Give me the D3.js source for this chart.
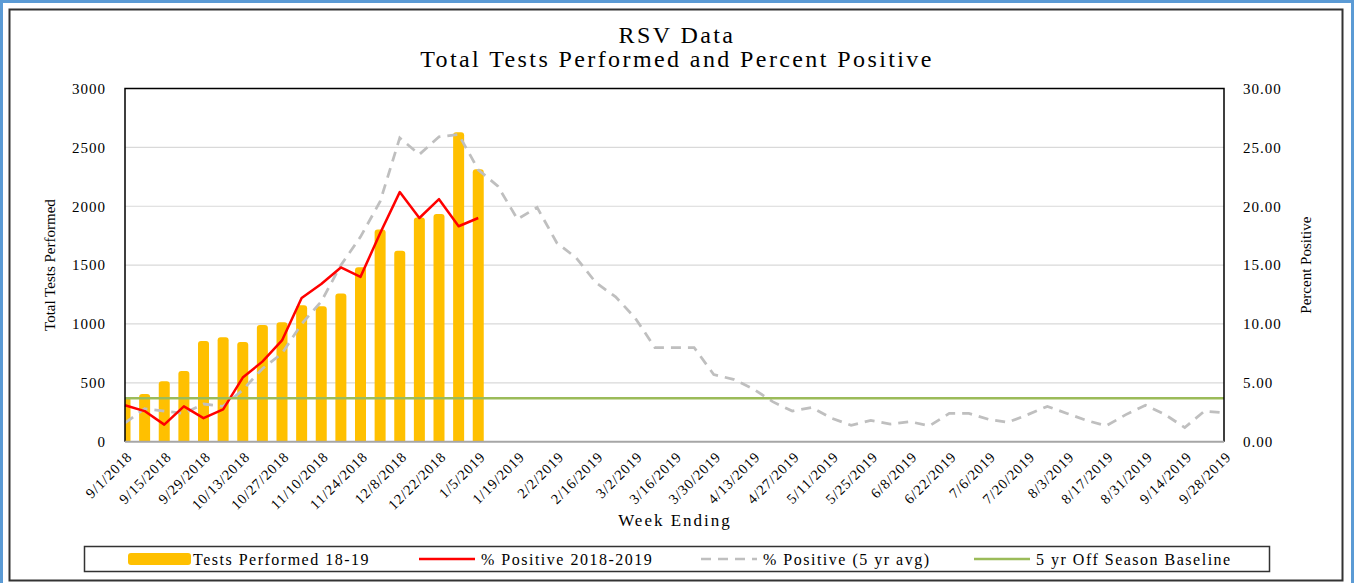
<!DOCTYPE html>
<html>
<head>
<meta charset="utf-8">
<script src="https://cdn.jsdelivr.net/npm/d3@7"></script>
<style>
  body { margin: 0; background: #fff; }
  text { font-family: "Liberation Serif", "Times New Roman", serif; fill: #000; }
</style>
</head>
<body>
<div id="chart"></div>
<script>
// 1: DATA
const weeks = [
    "9/1/2018", "9/8/2018", "9/15/2018", "9/22/2018", "9/29/2018", "10/6/2018", "10/13/2018",
    "10/20/2018", "10/27/2018", "11/3/2018", "11/10/2018", "11/17/2018", "11/24/2018", "12/1/2018",
    "12/8/2018", "12/15/2018", "12/22/2018", "12/29/2018", "1/5/2019", "1/12/2019", "1/19/2019",
    "1/26/2019", "2/2/2019", "2/9/2019", "2/16/2019", "2/23/2019", "3/2/2019", "3/9/2019",
    "3/16/2019", "3/23/2019", "3/30/2019", "4/6/2019", "4/13/2019", "4/20/2019", "4/27/2019",
    "5/4/2019", "5/11/2019", "5/18/2019", "5/25/2019", "6/1/2019", "6/8/2019", "6/15/2019",
    "6/22/2019", "6/29/2019", "7/6/2019", "7/13/2019", "7/20/2019", "7/27/2019", "8/3/2019",
    "8/10/2019", "8/17/2019", "8/24/2019", "8/31/2019", "9/7/2019", "9/14/2019", "9/21/2019",
    "9/28/2019"
];

// tests performed 18-19 (left axis)
const testsPerformed = [380, 405, 513, 601, 856, 887, 847, 992, 1015, 1159, 1151, 1258, 1482, 1802,
    1621, 1904, 1935, 2629, 2315];

// % positive 2018-2019 (right axis)
const pctPositive = [3.1, 2.6, 1.45, 3.0, 2.0, 2.75, 5.45, 6.8, 8.6, 12.2, 13.4, 14.8, 14.0, 17.7,
    21.2, 19.0, 20.6, 18.3, 19.0];

// % positive 5 yr avg (right axis)
const pctPositive5yr = [1.6, 2.8, 2.6, 2.4, 3.2, 3.0, 4.4, 6.2, 7.5, 10.0, 11.9, 15.0, 17.4, 20.4,
    25.8, 24.4, 25.9, 26.1, 23.1, 21.7, 18.9, 19.9, 16.9, 15.6, 13.5, 12.3, 10.5, 8.0,
    8.0, 8.0, 5.7, 5.3, 4.5, 3.4, 2.6, 2.9, 2.0, 1.4, 1.8, 1.5, 1.7, 1.35,
    2.4, 2.4, 1.9, 1.65, 2.3, 3.0, 2.4, 1.8, 1.35, 2.3, 3.1, 2.3, 1.2, 2.6, 2.45];

const baseline = 3.7; // 5 yr off season baseline

const leftTicks = [0, 500, 1000, 1500, 2000, 2500, 3000];
const rightTicks = [0, 5, 10, 15, 20, 25, 30];

// 2: SIZES
const W = 1354, H = 583;
const margin = { top: 88.5, right: 130, bottom: 141.3, left: 125 };
const width = W - margin.left - margin.right;
const height = H - margin.top - margin.bottom;

const svg = d3.select("#chart")
    .append("svg")
    .attr("width", W)
    .attr("height", H);

// blue selection edge + chart frame
svg.append("rect").attr("x", 0).attr("y", 0).attr("width", W).attr("height", H).attr("fill", "#fff");
svg.append("path")
    .attr("d", `M1.5,${H} V1.5 H${W - 1.5} V${H}`)
    .attr("fill", "none").attr("stroke", "#5b9bd5").attr("stroke-width", 3);
svg.append("rect")
    .attr("x", 9.5).attr("y", 9.5).attr("width", 1333).attr("height", 571)
    .attr("fill", "none").attr("stroke", "#333").attr("stroke-width", 2);

const g = svg.append("g")
    .attr("transform", `translate(${margin.left},${margin.top})`);

// 3: SCALES
const x = d3.scaleLinear().domain([0, weeks.length - 1]).range([0, width]);
const yLeft = d3.scaleLinear().domain([0, 3000]).range([height, 0]);
const yRight = d3.scaleLinear().domain([0, 30]).range([height, 0]);

// gridlines
g.append("g")
    .selectAll("line")
    .data(leftTicks.slice(1, -1))
    .enter().append("line")
    .attr("x1", 0).attr("x2", width)
    .attr("y1", d => yLeft(d)).attr("y2", d => yLeft(d))
    .attr("stroke", "#d9d9d9").attr("stroke-width", 1.2);

svg.append("clipPath").attr("id", "plotClip")
    .append("rect").attr("x", 0).attr("y", 0).attr("width", width).attr("height", height);

// 4: PLOT DATA
const barW = 11;
g.append("g")
    .attr("clip-path", "url(#plotClip)")
    .selectAll("rect")
    .data(testsPerformed)
    .enter().append("rect")
    .attr("x", (d, i) => x(i) - barW / 2)
    .attr("y", d => yLeft(d))
    .attr("width", barW)
    .attr("height", d => height - yLeft(d) + 5)
    .attr("rx", 3)
    .attr("fill", "#ffc000");

const lineGen = d3.line().x((d, i) => x(i)).y(d => yRight(d));
g.append("path")
    .datum(pctPositive5yr)
    .attr("d", lineGen)
    .attr("fill", "none")
    .attr("stroke", "#bfbfbf")
    .attr("stroke-width", 2.75)
    .attr("stroke-dasharray", "10,7");

g.append("path")
    .datum(pctPositive)
    .attr("d", lineGen)
    .attr("fill", "none")
    .attr("stroke", "#ff0000")
    .attr("stroke-width", 2.5)
    .attr("stroke-linejoin", "round");

g.append("line")
    .attr("x1", 0).attr("x2", width)
    .attr("y1", yRight(baseline)).attr("y2", yRight(baseline))
    .attr("stroke", "#9bbb59").attr("stroke-width", 2.5);

// 5: AXES + FRAME
g.append("path")
    .attr("d", `M0,${height} V0 H${width} V${height}`)
    .attr("fill", "none").attr("stroke", "#000").attr("stroke-width", 1.5);
g.append("line")
    .attr("x1", 0).attr("x2", width).attr("y1", height).attr("y2", height)
    .attr("stroke", "#a6a6a6").attr("stroke-width", 2);

const leftAxis = g.append("g")
    .call(d3.axisLeft(yLeft).tickValues(leftTicks).tickSize(0).tickPadding(19).tickFormat(d3.format("d")));
leftAxis.select(".domain").remove();
leftAxis.selectAll("text")
    .style("font-family", '"Liberation Serif", serif')
    .style("font-size", "15px").style("letter-spacing", "1px").attr("fill", "#000");

const rightAxis = g.append("g")
    .attr("transform", `translate(${width},0)`)
    .call(d3.axisRight(yRight).tickValues(rightTicks).tickSize(0).tickPadding(19).tickFormat(d3.format(".2f")));
rightAxis.select(".domain").remove();
rightAxis.selectAll("text")
    .style("font-family", '"Liberation Serif", serif')
    .style("font-size", "15px").style("letter-spacing", "1px").attr("fill", "#000");

// x tick labels, every other week, rotated
g.append("g")
    .selectAll("text")
    .data(weeks.map((w, i) => ({ w, i })).filter(d => d.i % 2 === 0))
    .enter().append("text")
    .attr("transform", d => `translate(${x(d.i) + 8},${height + 16}) rotate(-45)`)
    .attr("text-anchor", "end")
    .style("font-size", "14.5px")
    .style("letter-spacing", "0.9px")
    .text(d => d.w);

// 6: LABELS
svg.append("text")
    .attr("x", 677).attr("y", 43)
    .attr("text-anchor", "middle")
    .style("font-size", "24px").style("letter-spacing", "2.4px")
    .text("RSV Data");
svg.append("text")
    .attr("x", 677).attr("y", 67)
    .attr("text-anchor", "middle")
    .style("font-size", "24px").style("letter-spacing", "2.4px")
    .text("Total Tests Performed and Percent Positive");

svg.append("text")
    .attr("transform", `translate(55,${margin.top + height / 2}) rotate(-90)`)
    .attr("text-anchor", "middle")
    .style("font-size", "15px")
    .text("Total Tests Performed");

svg.append("text")
    .attr("transform", `translate(1311,${margin.top + height / 2}) rotate(-90)`)
    .attr("text-anchor", "middle")
    .style("font-size", "15px")
    .text("Percent Positive");

svg.append("text")
    .attr("x", 675).attr("y", 526)
    .attr("text-anchor", "middle")
    .style("font-size", "17px").style("letter-spacing", "2px")
    .text("Week Ending");

// LEGEND
const legend = svg.append("g");
legend.append("rect")
    .attr("x", 84.5).attr("y", 546.5).attr("width", 1185).attr("height", 25)
    .attr("fill", "#fff").attr("stroke", "#333").attr("stroke-width", 1.5);

const legendItems = [
    { label: "Tests Performed 18-19", x: 128, type: "bar" },
    { label: "% Positive 2018-2019", x: 419, type: "red" },
    { label: "% Positive (5 yr avg)", x: 701, type: "dash" },
    { label: "5 yr Off Season Baseline", x: 974, type: "green" }
];

legendItems.forEach(d => {
    const li = legend.append("g").attr("transform", `translate(${d.x},559)`);
    if (d.type === "bar") {
        li.append("rect").attr("x", 0).attr("y", -6).attr("width", 63).attr("height", 12)
            .attr("rx", 3).attr("fill", "#ffc000");
    } else {
        li.append("line").attr("x1", 0).attr("x2", 56).attr("y1", 0).attr("y2", 0)
            .attr("stroke", d.type === "red" ? "#ff0000" : d.type === "dash" ? "#bfbfbf" : "#9bbb59")
            .attr("stroke-width", 2.5)
            .attr("stroke-dasharray", d.type === "dash" ? "10,7" : null);
    }
    li.append("text")
        .attr("x", d.type === "bar" ? 65 : 62)
        .attr("y", 5.5)
        .style("font-size", "16px").style("letter-spacing", "1.5px")
        .text(d.label);
});
</script>
</body>
</html>
